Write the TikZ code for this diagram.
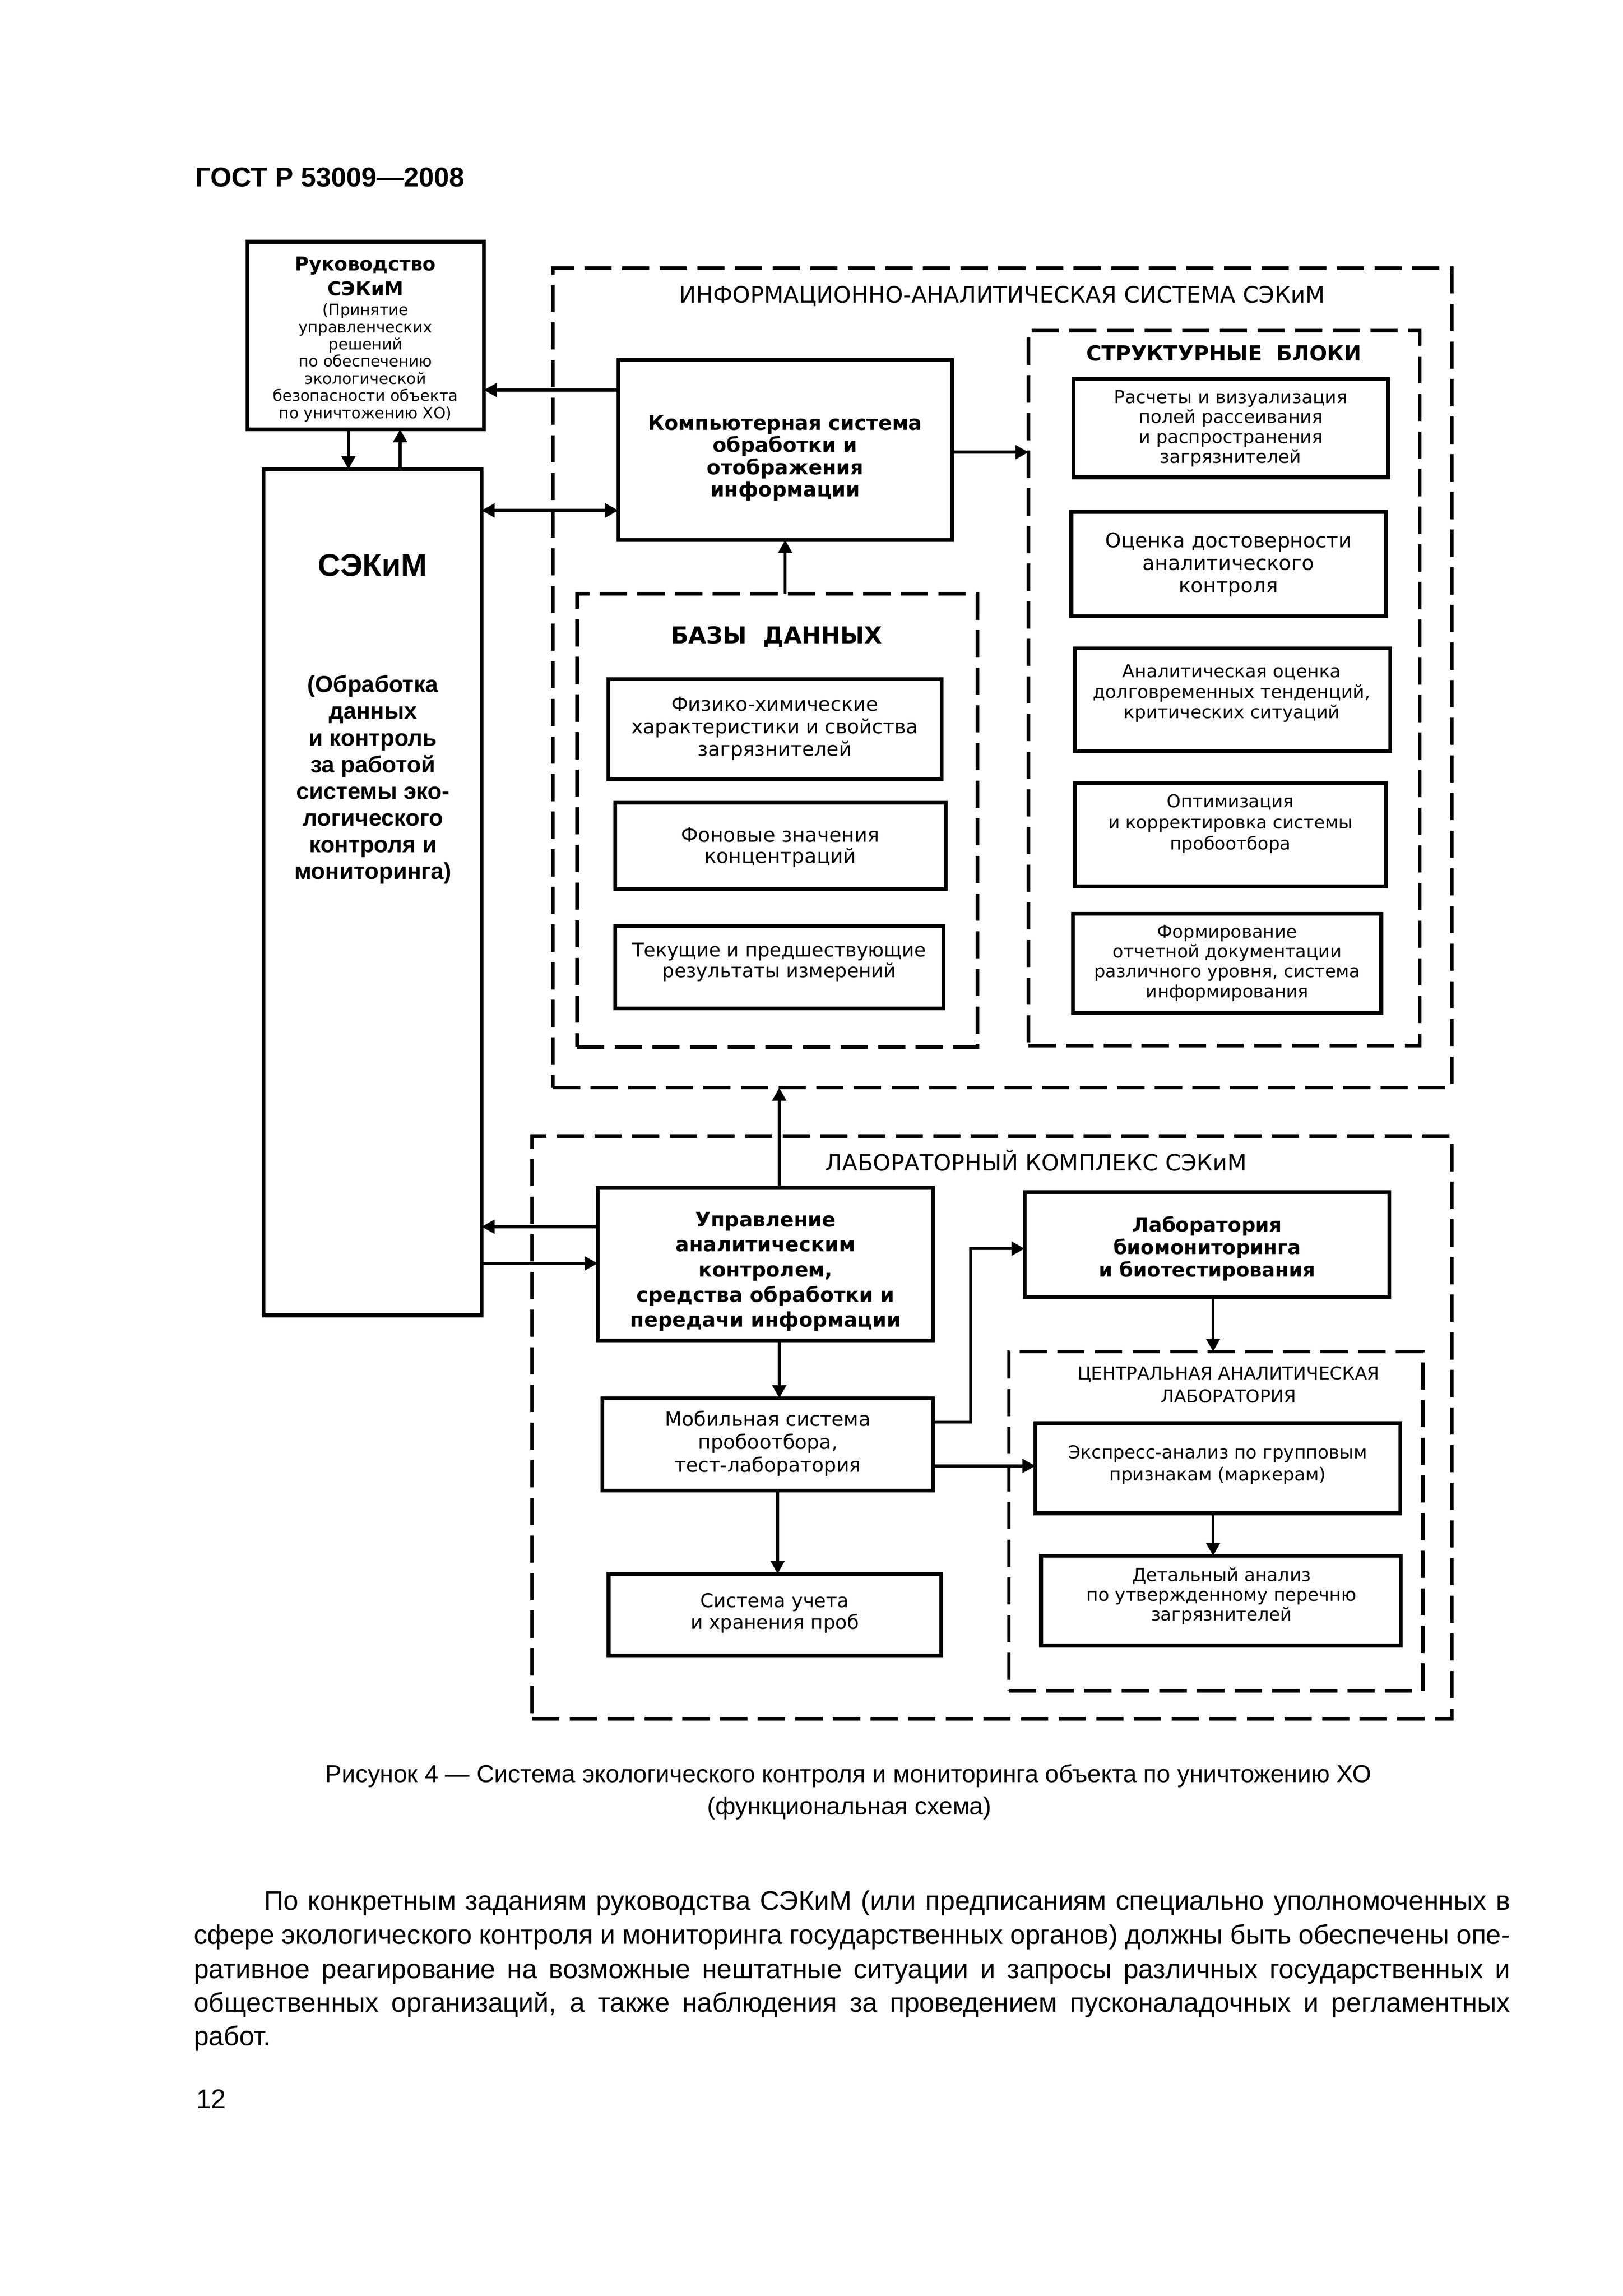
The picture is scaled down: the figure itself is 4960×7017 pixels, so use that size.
\documentclass[tikz,border=0pt]{standalone}
\usepackage{fontspec}
\setmainfont{DejaVu Sans}
\newfontfamily\arialf{Liberation Sans}
\usetikzlibrary{arrows.meta}
\newcommand\fsz[2]{\fontsize{#1}{#2}\selectfont}
\newcommand\jline[2]{\makebox[#1][s]{\spaceskip=0.28em plus 1em minus 0.25em\relax #2}}
\newcommand\mkbox[6][sbox]{%
  \node[#1, minimum width={(#5-#3)*0.12pt}, minimum height={(#6-#4)*0.12pt}] (#2) at ({(#3+#5)/2},{(#4+#6)/2}) {};}
\tikzset{
  sbox/.style={draw, line width=1.4pt, inner sep=0pt, outer sep=0pt},
  dbox/.style={draw, line width=1.3pt, dash pattern=on 10pt off 3.8pt, inner sep=0pt, outer sep=0pt},
  conn/.style={line width=1.1pt},
  arr/.style={conn, -{Triangle[length=4.8pt,width=5pt]}},
  darr/.style={conn, {Triangle[length=4.8pt,width=5pt]}-{Triangle[length=4.8pt,width=5pt]}},
  tx/.style={align=center, inner sep=0pt},
  bodyline/.style={anchor=base west, inner sep=0pt, font=\arialf\fsz{9.9pt}{11pt}}
}
\begin{document}
\begin{tikzpicture}[x=0.12pt, y=-0.12pt]
\fill[white] (0,0) rectangle (4960,7017);

% header
\node[anchor=base west, inner sep=0pt, font=\arialf\bfseries\fsz{10pt}{12pt}] (hdr) at (596,570) {ГОСТ Р 53009—2008};

% dashed containers
\mkbox[dbox]{info}{1690}{820}{4438}{3324}
\mkbox[dbox]{struct}{3144}{1010}{4340}{3196}
\mkbox[dbox]{bd}{1764}{1815}{2988}{3200}
\mkbox[dbox]{lab}{1626}{3472}{4438}{5253}
\mkbox[dbox]{cal}{3084}{4131}{4349}{5167}

% solid boxes
\mkbox{rukov}{756}{739}{1479}{1312}
\mkbox{sekim}{806}{1434}{1472}{4020}
\mkbox{comp}{1890}{1100}{2910}{1650}
\mkbox{s1}{3281}{1158}{4243}{1459}
\mkbox{s2}{3275}{1564}{4236}{1883}
\mkbox{s3}{3286}{1982}{4249}{2296}
\mkbox{s4}{3285}{2393}{4237}{2709}
\mkbox{s5}{3280}{2793}{4222}{3095}
\mkbox{b1}{1859}{2076}{2878}{2381}
\mkbox{b2}{1881}{2453}{2891}{2717}
\mkbox{b3}{1881}{2830}{2884}{3082}
\mkbox{upr}{1827}{3630}{2852}{4096}
\mkbox{mob}{1841}{4273}{2852}{4555}
\mkbox{uch}{1860}{4810}{2877}{5059}
\mkbox{bio}{3132}{3643}{4247}{3965}
\mkbox{exp}{3165}{4350}{4280}{4625}
\mkbox{det}{3182}{4755}{4282}{5029}

% texts
\node[tx, font=\bfseries\fsz{7pt}{9.1pt}] (rukT1) at (1117,845) {Руководство\\СЭКиМ};
\node[tx, font=\fsz{5.7pt}{6.3pt}] (rukT2) at (1117,1108) {(Принятие\\управленческих\\решений\\по обеспечению\\экологической\\безопасности объекта\\по уничтожению ХО)};
\node[tx, font=\arialf\bfseries\fsz{11.5pt}{13pt}] (sekT1) at (1139,1727) {СЭКиМ};
\node[tx, font=\arialf\bfseries\fsz{8.5pt}{9.8pt}] (sekT2) at (1140,2383) {(Обработка\\данных\\и контроль\\за работой\\системы эко-\\логического\\контроля и\\мониторинга)};

\node[tx, font=\fsz{8.3pt}{9.5pt}] (infoT) at (3063,905) {ИНФОРМАЦИОННО-АНАЛИТИЧЕСКАЯ СИСТЕМА СЭКиМ};
\node[tx, font=\bfseries\fsz{7.4pt}{8.1pt}] (compT) at (2400,1400) {Компьютерная система\\обработки и\\отображения\\информации};
\node[tx, font=\bfseries\fsz{7.6pt}{9pt}] (structT) at (3741,1079) {СТРУКТУРНЫЕ\ \ БЛОКИ};
\node[tx, font=\fsz{6.6pt}{7.3pt}] (s1T) at (3762,1310) {Расчеты и визуализация\\полей рассеивания\\и распространения\\загрязнителей};
\node[tx, font=\fsz{7.4pt}{8.3pt}] (s2T) at (3755,1726) {Оценка достоверности\\аналитического\\контроля};
\node[tx, font=\fsz{6.6pt}{7.5pt}] (s3T) at (3765,2119) {Аналитическая оценка\\долговременных тенденций,\\критических ситуаций};
\node[tx, font=\fsz{6.5pt}{7.7pt}] (s4T) at (3761,2518) {Оптимизация\\и корректировка системы\\пробоотбора};
\node[tx, font=\fsz{6.5pt}{7.3pt}] (s5T) at (3751,2943) {Формирование\\отчетной документации\\различного уровня, система\\информирования};

\node[tx, font=\bfseries\fsz{8.5pt}{10pt}] (bdT) at (2374,1946) {БАЗЫ\ \ ДАННЫХ};
\node[tx, font=\fsz{7.2pt}{8.3pt}] (b1T) at (2368,2226) {Физико-химические\\характеристики и свойства\\загрязнителей};
\node[tx, font=\fsz{7.3pt}{7.8pt}] (b2T) at (2385,2590) {Фоновые значения\\концентраций};
\node[tx, font=\fsz{7pt}{7.6pt}] (b3T) at (2382,2940) {Текущие и предшествующие\\результаты измерений};

\node[tx, font=\fsz{8.25pt}{9.5pt}] (labT) at (3167,3547) {ЛАБОРАТОРНЫЙ КОМПЛЕКС СЭКиМ};
\node[tx, font=\bfseries\fsz{7.4pt}{9.2pt}] (uprT) at (2340,3886) {Управление\\аналитическим\\контролем,\\средства обработки и\\передачи информации};
\node[tx, font=\fsz{7.2pt}{8.4pt}] (mobT) at (2347,4411) {Мобильная система\\пробоотбора,\\тест-лаборатория};
\node[tx, font=\fsz{7pt}{8pt}] (uchT) at (2368,4930) {Система учета\\и хранения проб};
\node[tx, font=\bfseries\fsz{7.2pt}{8.3pt}] (bioT) at (3690,3816) {Лаборатория\\биомониторинга\\и биотестирования};
\node[tx, font=\fsz{6.5pt}{8.3pt}] (calT) at (3755,4232) {ЦЕНТРАЛЬНАЯ АНАЛИТИЧЕСКАЯ\\ЛАБОРАТОРИЯ};
\node[tx, font=\fsz{6.6pt}{8pt}] (expT) at (3722,4477) {Экспресс-анализ по групповым\\признакам (маркерам)};
\node[tx, font=\fsz{6.6pt}{7.2pt}] (detT) at (3734,4878) {Детальный анализ\\по утвержденному перечню\\загрязнителей};

% helper coordinates
\coordinate (y1192) at (0,1192);
\coordinate (y1560) at (0,1560);
\coordinate (y1382) at (0,1382);
\coordinate (y3749) at (0,3749);
\coordinate (y3861) at (0,3861);
\coordinate (y4346) at (0,4346);
\coordinate (y4480) at (0,4480);
\coordinate (x1065) at (1065,0);
\coordinate (x1223) at (1223,0);
\coordinate (x2400) at (2400,0);
\coordinate (x2382) at (2382,0);
\coordinate (x2377) at (2377,0);
\coordinate (x3708) at (3708,0);
\coordinate (elbow) at (2967,3816);

% connectors
\draw[arr] (comp.west |- y1192) -- (rukov.east |- y1192);
\draw[darr] (sekim.east |- y1560) -- (comp.west |- y1560);
\draw[arr] (rukov.south -| x1065) -- (sekim.north -| x1065);
\draw[arr] (sekim.north -| x1223) -- (rukov.south -| x1223);
\draw[arr] (comp.east |- y1382) -- (struct.west |- y1382);
\draw[arr] (bd.north -| x2400) -- (comp.south -| x2400);
\draw[arr] (upr.north -| x2382) -- (info.south -| x2382);
\draw[arr] (upr.west |- y3749) -- (sekim.east |- y3749);
\draw[arr] (sekim.east |- y3861) -- (upr.west |- y3861);
\draw[arr] (upr.south -| x2382) -- (mob.north -| x2382);
\draw[arr] (mob.south -| x2377) -- (uch.north -| x2377);
\draw[arr] (mob.east |- y4346) -| (elbow) -- (bio.west |- elbow);
\draw[arr] (mob.east |- y4480) -- (exp.west |- y4480);
\draw[arr] (bio.south -| x3708) -- (cal.north -| x3708);
\draw[arr] (exp.south -| x3708) -- (det.north -| x3708);

% caption
\node[anchor=base, inner sep=0pt, font=\arialf\fsz{9pt}{11pt}] (cap1) at (2593,5447) {Рисунок 4 — Система экологического контроля и мониторинга объекта по уничтожению ХО};
\node[anchor=base, inner sep=0pt, font=\arialf\fsz{9pt}{11pt}] (cap2) at (2596,5545) {(функциональная схема)};

% body text
\node[bodyline] (p1) at (806,5838) {\jline{457pt}{По конкретным заданиям руководства СЭКиМ (или предписаниям специально уполномоченных в}};
\node[bodyline] (p2) at (591,5941) {\jline{482.8pt}{сфере экологического контроля и мониторинга государственных органов) должны быть обеспечены опе-}};
\node[bodyline] (p3) at (591,6046) {\jline{482.8pt}{ративное реагирование на возможные нештатные ситуации и запросы различных государственных и}};
\node[bodyline] (p4) at (591,6149) {\jline{482.8pt}{общественных организаций, а также наблюдения за проведением пусконаладочных и регламентных}};
\node[bodyline] (p5) at (591,6251) {работ.};
\node[bodyline] (pg) at (598,6443) {12};
\end{tikzpicture}
\end{document}
